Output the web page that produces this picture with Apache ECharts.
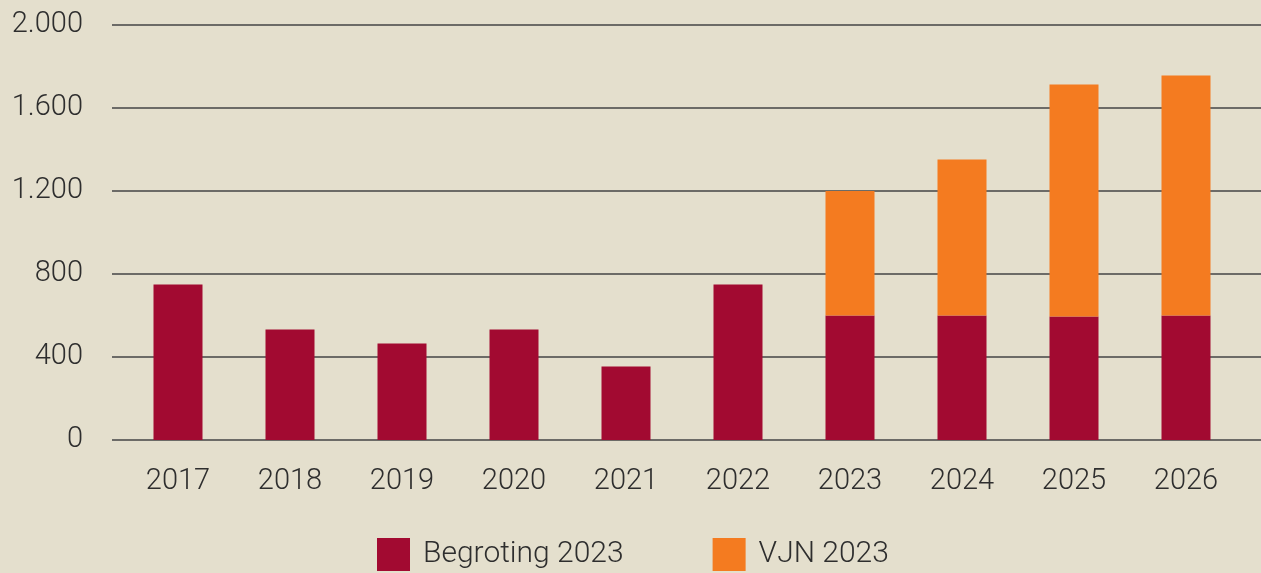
<!DOCTYPE html>
<html>
<head>
<meta charset="utf-8">
<script src="https://cdn.jsdelivr.net/npm/echarts@6/dist/echarts.min.js"></script>
<style>
html, body { margin: 0; padding: 0; background: #e4dfcd; }
#chart { width: 1261px; height: 573px; }
</style>
</head>
<body>
<div id="chart"></div>
<script>
// jaren en bedragen
var years = ['2017', '2018', '2019', '2020', '2021', '2022', '2023', '2024', '2025', '2026'];
var begroting = [750, 532, 465, 532, 354, 750, 600, 600, 595, 600];
var vjn = [0, 0, 0, 0, 0, 0, 600, 752, 1118, 1157];
var yTicks = [0, 400, 800, 1200, 1600, 2000];

var fontName = 'Roboto';
var textColor = '#2e2e2e';

function fmt(v) {
	return String(v).replace(/\B(?=(\d{3})+(?!\d))/g, '.');
}

var myChart = echarts.init(document.getElementById('chart'));
var option = {
	backgroundColor: '#e4dfcd',
	animation: false,
	legend: {
		left: 377,
		bottom: 2,
		padding: 0,
		itemWidth: 33,
		itemHeight: 33,
		itemGap: 89,
		icon: 'rect',
		textStyle: {
			fontFamily: fontName,
			fontSize: 30,
			fontWeight: 300,
			color: textColor,
			padding: [0, 0, 0, 8]
		},
		data: ['Begroting 2023', 'VJN 2023']
	},
	grid: [
		// rasterlijnen over de volle breedte
		{ left: 112, right: 0, top: 25, bottom: 133 },
		// staven
		{ left: 122, right: 19, top: 25, bottom: 133 }
	],
	xAxis: [
		{
			gridIndex: 0, type: 'category', data: years,
			axisLine: { show: false }, axisTick: { show: false }, axisLabel: { show: false }
		},
		{
			gridIndex: 1, type: 'category', data: years,
			axisLine: { show: false }, axisTick: { show: false },
			axisLabel: {
				margin: 27,
				fontFamily: fontName, fontSize: 29, fontWeight: 300, color: textColor
			}
		}
	],
	yAxis: [
		{
			gridIndex: 0, type: 'value', min: 0, max: 2000, interval: 400,
			axisLine: { show: false }, axisTick: { show: false },
			splitLine: { lineStyle: { color: '#444444', width: 1.5 } },
			axisLabel: {
				margin: 29,
				fontFamily: fontName, fontSize: 29, fontWeight: 300, color: textColor,
				formatter: function (v) { return fmt(v); }
			}
		},
		{
			gridIndex: 1, type: 'value', min: 0, max: 2000, interval: 400,
			show: false
		}
	],
	series: [
		{
			name: 'Begroting 2023', type: 'bar', stack: 'totaal',
			xAxisIndex: 1, yAxisIndex: 1,
			barWidth: 49,
			itemStyle: { color: '#a20a31' },
			data: begroting
		},
		{
			name: 'VJN 2023', type: 'bar', stack: 'totaal',
			xAxisIndex: 1, yAxisIndex: 1,
			barWidth: 49,
			itemStyle: { color: '#f47b20' },
			data: vjn
		}
	]
};
myChart.setOption(option);
</script>
</body>
</html>
